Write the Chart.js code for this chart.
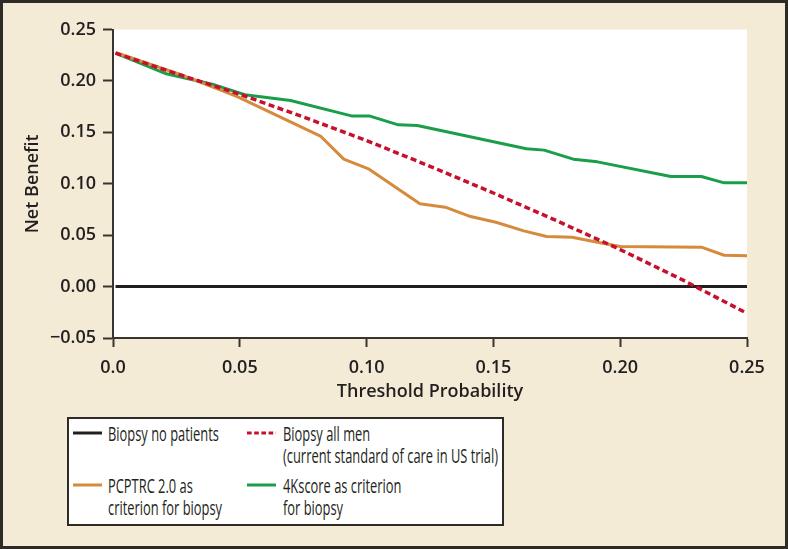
<!DOCTYPE html>
<html>
<head>
<meta charset="utf-8">
<script src="https://cdn.jsdelivr.net/npm/chart.js@4.4.0/dist/chart.umd.min.js"></script>
<style>
  html, body { margin: 0; padding: 0; background: #f3ebd6; }
  #wrap { position: relative; width: 788px; height: 549px; overflow: hidden; background: #f3ebd6; }
  #chart { position: absolute; left: 0; top: 0; }
  #frame { position: absolute; left: 0; top: 0; width: 788px; height: 549px; box-sizing: border-box; border: 3px solid #2e2a26; pointer-events: none; }
  #legend { position: absolute; left: 67px; top: 417px; width: 437px; height: 109px; box-sizing: border-box; border: 2px solid #2e2a26; background: #fff;
            font-family: "Open Sans", sans-serif; font-size: 20.5px; font-weight: 500; color: #231f20; }
  .swatch { position: absolute; width: 29px; height: 6px; }
  .label { position: absolute; line-height: 22.5px; white-space: nowrap; transform-origin: 0 0; }
</style>
</head>
<body>
<div id="wrap">
  <canvas id="chart" width="788" height="549"></canvas>
  <div id="legend"></div>
  <div id="frame"></div>
</div>
<script>
// axis ticks
const xTicks = [0, 0.05, 0.10, 0.15, 0.20, 0.25];
const xTickLabels = ['0.0', '0.05', '0.10', '0.15', '0.20', '0.25'];
const yTicks = [-0.05, 0, 0.05, 0.10, 0.15, 0.20, 0.25];
const yTickLabels = ['\u22120.05', '0.00', '0.05', '0.10', '0.15', '0.20', '0.25'];

// Biopsy no patients
const noneX = [0.001, 0.25];
const noneY = [0, 0];

// Biopsy all men
const allMenX = [0.001, 0.025, 0.05, 0.075, 0.10, 0.125, 0.15, 0.175, 0.20, 0.225, 0.25];
const allMenY = [0.227, 0.207, 0.187, 0.165, 0.142, 0.117, 0.091, 0.064, 0.036, 0.006, -0.026];

// PCPTRC 2.0
const pcptrcX = [0.001, 0.028, 0.049, 0.082, 0.091, 0.101, 0.121, 0.131, 0.141, 0.151, 0.162, 0.171, 0.181, 0.191, 0.200, 0.232, 0.241, 0.25];
const pcptrcY = [0.2276, 0.205, 0.1848, 0.146, 0.124, 0.1142, 0.0805, 0.0772, 0.0681, 0.0626, 0.0542, 0.0487, 0.048, 0.0432, 0.0389, 0.0383, 0.0305, 0.0299];

// 4Kscore
const kscoreX = [0.001, 0.021, 0.040, 0.052, 0.070, 0.094, 0.101, 0.1125, 0.120, 0.163, 0.170, 0.1815, 0.191, 0.220, 0.232, 0.241, 0.25];
const kscoreY = [0.227, 0.2069, 0.1962, 0.1865, 0.181, 0.166, 0.166, 0.1573, 0.1566, 0.134, 0.1327, 0.1239, 0.1213, 0.107, 0.107, 0.1009, 0.1009];

const seriesLabels = [
  ['Biopsy no patients'],
  ['Biopsy all men', '(current standard of care in US trial)'],
  ['PCPTRC 2.0 as', 'criterion for biopsy'],
  ['4Kscore as criterion', 'for biopsy']
];

const DARK = '#231f20';
const RED = '#c8102e';
const ORANGE = '#d68a3c';
const GREEN = '#1a9e4a';

const pts = (xs, ys) => xs.map((x, i) => ({ x: x, y: ys[i] }));

const axisFont = { family: '"Open Sans", sans-serif', size: 18, weight: '600' };

const whiteArea = {
  id: 'whiteArea',
  beforeDraw(chart) {
    const a = chart.chartArea;
    const ctx = chart.ctx;
    ctx.save();
    ctx.fillStyle = '#fff';
    ctx.fillRect(a.left, a.top, a.right - a.left, a.bottom - a.top);
    ctx.restore();
  }
};

const ctx = document.getElementById('chart').getContext('2d');
new Chart(ctx, {
  type: 'line',
  data: {
    datasets: [
      { label: seriesLabels[1].join(' '), data: pts(allMenX, allMenY), borderColor: RED, borderWidth: 3.5, borderDash: [6, 3.5] },
      { label: seriesLabels[2].join(' '), data: pts(pcptrcX, pcptrcY), borderColor: ORANGE, borderWidth: 3 },
      { label: seriesLabels[3].join(' '), data: pts(kscoreX, kscoreY), borderColor: GREEN, borderWidth: 3 },
      { label: seriesLabels[0].join(' '), data: pts(noneX, noneY), borderColor: DARK, borderWidth: 3 }
    ]
  },
  options: {
    responsive: false,
    animation: false,
    layout: { padding: { left: 0, top: 29.5, right: 41, bottom: 139 } },
    plugins: { legend: { display: false }, tooltip: { enabled: false } },
    elements: { point: { radius: 0 }, line: { tension: 0, fill: false, borderJoinStyle: 'round' } },
    scales: {
      x: {
        type: 'linear', min: 0, max: 0.25,
        afterBuildTicks: s => { s.ticks = xTicks.map(v => ({ value: v })); },
        afterFit: s => { s.height = 72; },
        ticks: { callback: (v, i) => xTickLabels[i], font: axisFont, color: DARK, padding: 10, maxRotation: 0, autoSkip: false },
        grid: { drawOnChartArea: false, drawTicks: true, tickLength: 9, tickWidth: 2, color: '#3a3430' },
        border: { display: true, color: '#3a3430', width: 2 },
        title: { display: true, text: 'Threshold Probability', font: axisFont, color: DARK, padding: { top: 0, bottom: 7 } }
      },
      y: {
        type: 'linear', min: -0.05, max: 0.25,
        afterBuildTicks: s => { s.ticks = yTicks.map(v => ({ value: v })); },
        afterFit: s => { s.width = 113; },
        ticks: { callback: (v, i) => yTickLabels[i], font: axisFont, color: DARK, padding: 7, autoSkip: false },
        grid: { drawOnChartArea: false, drawTicks: true, tickLength: 10, tickWidth: 2, color: '#3a3430' },
        border: { display: true, color: '#3a3430', width: 2 },
        title: { display: true, text: 'Net Benefit', font: axisFont, color: DARK, padding: { top: 22, bottom: 0 } }
      }
    }
  },
  plugins: [whiteArea]
});

// legend (2 x 2 grid), text squeezed to the condensed look of the original
const legendItems = [
  { text: seriesLabels[0], color: DARK, dash: null, lx: 4, tx: 39, y: 14 },
  { text: seriesLabels[1], color: RED, dash: '4.6,2.6', lx: 178, tx: 214, y: 14 },
  { text: seriesLabels[2], color: ORANGE, dash: null, lx: 4, tx: 39, y: 66 },
  { text: seriesLabels[3], color: GREEN, dash: null, lx: 178, tx: 214, y: 66 }
];
const legend = document.getElementById('legend');
const labels = [];
legendItems.forEach(item => {
  const sw = document.createElementNS('http://www.w3.org/2000/svg', 'svg');
  sw.setAttribute('class', 'swatch');
  sw.setAttribute('width', '29');
  sw.setAttribute('height', '6');
  sw.style.left = item.lx + 'px';
  sw.style.top = (item.y - 3) + 'px';
  const ln = document.createElementNS('http://www.w3.org/2000/svg', 'line');
  ln.setAttribute('x1', '0'); ln.setAttribute('y1', '3');
  ln.setAttribute('x2', '29'); ln.setAttribute('y2', '3');
  ln.setAttribute('stroke', item.color);
  ln.setAttribute('stroke-width', '3');
  if (item.dash) ln.setAttribute('stroke-dasharray', item.dash);
  sw.appendChild(ln);
  legend.appendChild(sw);

  const lab = document.createElement('div');
  lab.className = 'label';
  lab.style.left = item.tx + 'px';
  lab.style.top = (item.y - 11.25) + 'px';
  lab.innerHTML = item.text.join('<br>');
  legend.appendChild(lab);
  labels.push(lab);
});
// the long second line of item 2 is ~215px wide in the original
const wide = labels[1].getBoundingClientRect().width;
const squeeze = 215 / wide;
labels.forEach(l => { l.style.transform = 'scaleX(' + squeeze + ')'; });
</script>
</body>
</html>
